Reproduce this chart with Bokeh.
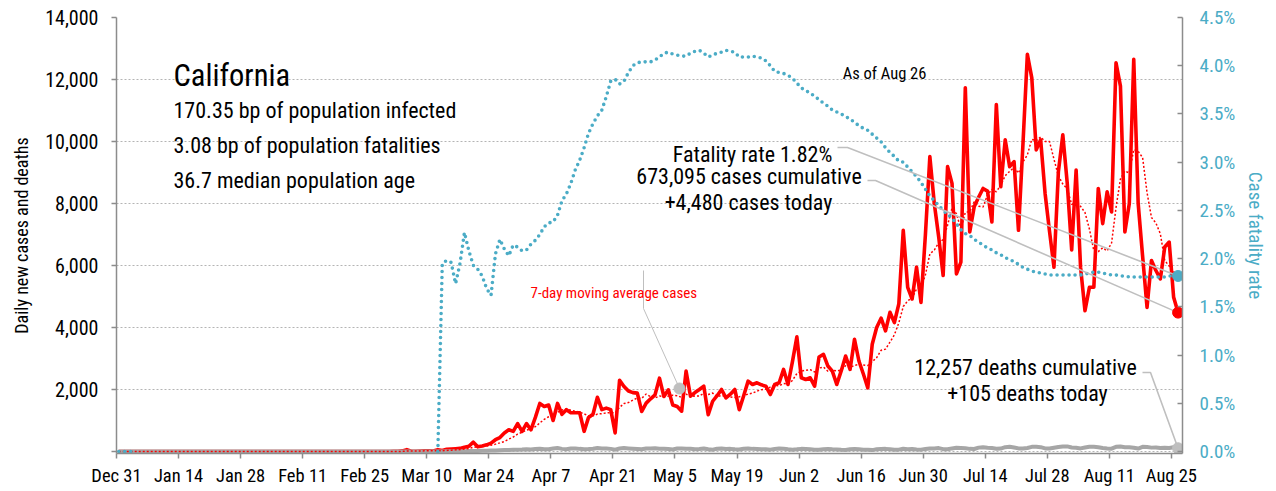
import numpy as np
import pandas as pd
from bokeh.plotting import figure
from bokeh.models import (Range1d, LinearAxis, FixedTicker, NumeralTickFormatter,
                          PrintfTickFormatter, Label, ColumnDataSource)
from bokeh.embed import file_html
from bokeh.resources import INLINE

# ---------------- data ----------------
start_date = "2019-12-31"
tick_labels = ["Dec 31", "Jan 14", "Jan 28", "Feb 11", "Feb 25", "Mar 10", "Mar 24",
               "Apr 7", "Apr 21", "May 5", "May 19", "Jun 2", "Jun 16", "Jun 30",
               "Jul 14", "Jul 28", "Aug 11", "Aug 25"]

# daily new cases, Dec 31 .. Aug 26
cases = [
    0, 0, 0, 0, 0, 0, 0, 0, 0, 0, 0, 0, 0, 0, 0, 0, 0, 0, 0, 0,
    0, 0, 0, 0, 0, 0, 0, 0, 0, 0, 0, 0, 0, 0, 0, 0, 0, 0, 0, 0,
    0, 0, 0, 0, 0, 0, 0, 0, 0, 0, 0, 0, 0, 0, 0, 0, 0, 0, 0, 0,
    0, 0, 5, 10, 20, 60, 10, 10, 15, 20, 25, 15, 60, 30, 70, 80,
    90, 100, 140, 170, 300, 150, 180, 215, 270, 380, 450, 600, 700, 650,
    900, 650, 900, 700, 1100, 1550, 1450, 1500, 1000, 1550,
    1200, 1350, 1250, 1250, 1250, 650, 1100, 1200, 1750, 1350,
    1400, 1350, 600, 2300, 2097, 1950, 1900, 1882, 1290, 1560,
    1700, 1828, 2366, 1775, 1990, 1500, 1450, 1300, 2594, 1784,
    1900, 2000, 2108, 1189, 1621, 1800, 2000, 1730, 1850, 2000,
    1351, 1800, 2270, 2162, 2216, 2150, 2108, 1838, 2162, 2216,
    2648, 2162, 2900, 3697, 2378, 2324, 2378, 2108, 3050, 3135,
    2757, 2594, 2162, 2600, 3081, 2648, 3621, 2919, 2500, 2054,
    3459, 4000, 4300, 3890, 4490, 4160, 4760, 7135, 5297, 4919,
    5946, 4810, 7000, 9513, 8000, 6919, 5676, 9189, 8649, 5730,
    6108, 11730, 7081, 7892, 8200, 8486, 8400, 7405, 11189, 8540,
    10054, 9189, 9351, 7135, 9900, 12810, 12054, 9730, 10054, 8324,
    7100, 5946, 9027, 10216, 8649, 6500, 9081, 5946, 4540, 5297,
    5297, 8486, 7351, 8378, 7730, 12540, 11784, 7081, 8000, 12650,
    8000, 6300, 4649, 6162, 5838, 5568, 6595, 6757, 4973, 4480,
]

# daily deaths, Dec 31 .. Aug 26
deaths = [
    0, 0, 0, 0, 0, 0, 0, 0, 0, 0, 0, 0, 0, 0, 0, 0, 0, 0, 0, 0,
    0, 0, 0, 0, 0, 0, 0, 0, 0, 0, 0, 0, 0, 0, 0, 0, 0, 0, 0, 0,
    0, 0, 0, 0, 0, 0, 0, 0, 0, 0, 0, 0, 0, 0, 0, 0, 0, 0, 0, 0,
    0, 0, 0, 1, 0, 1, 1, 2, 3, 1, 2, 4, 3, 4, 5, 6,
    8, 10, 12, 15, 18, 20, 24, 22, 30, 35, 40, 45, 50, 55,
    60, 62, 70, 65, 80, 90, 72, 75, 95, 110, 85, 70, 95, 100, 85, 75,
    80, 90, 110, 95, 100, 85, 60, 95, 110, 100, 90, 80, 70, 95, 100,
    105, 90, 85, 80, 65, 95, 100, 90, 85, 75, 80, 95, 70, 60, 90, 95,
    80, 85, 70, 65, 90, 100, 85, 80, 75, 70, 60, 80, 95, 90, 70,
    60, 70, 85, 80, 70, 60, 55, 75, 80, 70, 65, 55, 50, 75, 80,
    70, 60, 55, 45, 70, 80, 85, 70, 55, 60, 90, 75, 80, 65, 60,
    80, 100, 95, 110, 75, 70, 100, 120, 115, 105, 85, 80, 125, 140, 120, 110,
    90, 95, 140, 150, 130, 100, 95, 115, 150, 155, 140, 100, 95, 120, 145,
    160, 165, 130, 120, 100, 130, 155, 150, 140, 115, 100, 90, 150, 160,
    140, 135, 120, 95, 150, 145, 125, 130, 110, 120, 115, 140, 105,
]

# case fatality rate (%), first days and then from Mar 12 .. Aug 26
cfr_first_days = [0.0, 0.0, 0.0, 0.0, 0.0]
cfr_from_mar12 = [
    0.00, 1.95, 1.98, 1.96, 1.74, 1.95, 2.27, 2.08, 1.93, 1.89,
    1.82, 1.69, 1.62, 2.05, 2.20, 2.10, 2.03, 2.14, 2.12, 2.08,
    2.09, 2.15, 2.19, 2.25, 2.33, 2.37, 2.38, 2.45, 2.60, 2.67,
    2.78, 2.92, 3.02, 3.15, 3.30, 3.40, 3.48, 3.54, 3.68, 3.84,
    3.86, 3.81, 3.84, 3.93, 4.00, 4.03, 4.04, 4.04, 4.04, 4.06,
    4.09, 4.13, 4.14, 4.12, 4.11, 4.10, 4.10, 4.13, 4.15, 4.16,
    4.13, 4.09, 4.11, 4.13, 4.14, 4.16, 4.15, 4.14, 4.09, 4.09,
    4.09, 4.10, 4.09, 4.08, 4.05, 4.00, 3.94, 3.93, 3.92, 3.90,
    3.87, 3.82, 3.77, 3.74, 3.72, 3.68, 3.65, 3.61, 3.58, 3.54,
    3.52, 3.50, 3.47, 3.45, 3.41, 3.38, 3.35, 3.33, 3.29, 3.25,
    3.21, 3.15, 3.10, 3.06, 3.01, 3.00, 2.95, 2.90, 2.85, 2.79,
    2.72, 2.65, 2.60, 2.55, 2.50, 2.46, 2.42, 2.36, 2.30, 2.26,
    2.24, 2.20, 2.17, 2.14, 2.11, 2.09, 2.06, 2.04, 2.01, 1.99,
    1.97, 1.94, 1.91, 1.89, 1.87, 1.86, 1.85, 1.84, 1.83, 1.83,
    1.83, 1.83, 1.83, 1.83, 1.83, 1.83, 1.84, 1.85, 1.86, 1.86,
    1.85, 1.84, 1.83, 1.83, 1.82, 1.82, 1.81, 1.81, 1.81, 1.81,
    1.81, 1.81, 1.81, 1.81, 1.81, 1.82, 1.82, 1.82,
]
cfr_mar12_date = "2020-03-12"

# ---------------- build ----------------
dates = pd.date_range(start_date, periods=len(cases), freq="D")
day = np.asarray((dates - dates[0]).days, dtype=float)
x = day + 0.5                       # each day drawn at the centre of its slot
ma = pd.Series(cases, dtype=float).rolling(7, min_periods=1).mean().values

cfr = np.full(len(cases), np.nan)
cfr[:len(cfr_first_days)] = cfr_first_days
i12 = (pd.Timestamp(cfr_mar12_date) - dates[0]).days
cfr[i12:i12 + len(cfr_from_mar12)] = cfr_from_mar12

src = ColumnDataSource(dict(x=x, cases=np.asarray(cases, float), ma=ma,
                            deaths=np.asarray(deaths, float), cfr=cfr))

tick_dates = pd.date_range(start_date, periods=len(tick_labels), freq="14D")
tick_days = [int(d) for d in (tick_dates - dates[0]).days]

FONT = "'Liberation Sans Narrow', 'Arial Narrow', 'Roboto Condensed', 'DejaVu Sans Condensed', sans-serif"
RED = "#ff0000"
BLUE = "#4bacc6"
GREY = "#a6a6a6"
AXIS = "#8c8c8c"

XMAX = 240.5
YMAX = 14000
CFRMAX = 4.5
# the frame runs a couple of pixels below zero so the thick lines at zero are not clipped
PAD_PX = 2
FRAME_H = 434
Y_PAD = PAD_PX * YMAX / FRAME_H
CFR_PAD = PAD_PX * CFRMAX / FRAME_H

p = figure(width=1276, height=491, output_backend="svg", toolbar_location=None,
           x_range=Range1d(0, XMAX), y_range=Range1d(-Y_PAD, YMAX),
           min_border_left=116, min_border_right=94, min_border_top=17,
           min_border_bottom=40 - PAD_PX)
p.extra_y_ranges = {"cfr": Range1d(-CFR_PAD, CFRMAX)}
p.outline_line_color = None
p.background_fill_color = "white"
p.border_fill_color = "white"

# canvas-pixel -> data helper for annotation placement (zero at 451, 14000 at 17)
PX0, PX1, PY0, PY1 = 116, 1182, 451, 17
def at(px, py):
    return ((px - PX0) * XMAX / (PX1 - PX0), (PY0 - py) * YMAX / (PY0 - PY1))

# axes
p.xgrid.visible = False
p.xaxis.ticker = FixedTicker(ticks=tick_days)
p.xaxis.major_label_overrides = {d: lab for d, lab in zip(tick_days, tick_labels)}
p.xaxis.major_label_text_font = FONT
p.xaxis.major_label_text_font_size = "18.5px"
p.xaxis.major_label_text_color = "#000000"
p.xaxis.major_tick_out = 5
p.xaxis.major_tick_in = 0
p.xaxis.minor_tick_line_color = None
p.xaxis.major_label_standoff = 6
p.xaxis.axis_line_color = AXIS
p.xaxis.axis_line_width = 1.5
p.xaxis.major_tick_line_color = AXIS
p.xaxis.major_tick_line_width = 1.5

yt = list(range(0, YMAX + 1, 2000))
p.yaxis.ticker = FixedTicker(ticks=yt)
p.yaxis.formatter = NumeralTickFormatter(format="0,0")
p.yaxis.major_label_overrides = {0: ""}
p.yaxis.major_label_text_font = FONT
p.yaxis.major_label_text_font_size = "20px"
p.yaxis.major_label_text_color = "#000000"
p.yaxis.major_tick_out = 5
p.yaxis.major_tick_in = 0
p.yaxis.minor_tick_line_color = None
p.yaxis.major_label_standoff = 13
p.yaxis.axis_line_color = AXIS
p.yaxis.axis_line_width = 1.5
p.yaxis.major_tick_line_color = AXIS
p.yaxis.major_tick_line_width = 1.5
p.yaxis.axis_label = "Daily new cases and deaths"
p.yaxis.axis_label_text_font = FONT
p.yaxis.axis_label_text_font_size = "18px"
p.yaxis.axis_label_text_font_style = "normal"
p.yaxis.axis_label_text_color = "#000000"
p.yaxis.axis_label_standoff = 10

p.ygrid.grid_line_color = "#b4b4b4"
p.ygrid.grid_line_dash = "2 2"
p.ygrid.grid_line_width = 1

ry = LinearAxis(y_range_name="cfr",
                ticker=FixedTicker(ticks=[i * 0.5 for i in range(10)]),
                formatter=PrintfTickFormatter(format="%.1f%%"))
ry.major_label_text_font = FONT
ry.major_label_text_font_size = "19px"
ry.major_label_text_color = BLUE
ry.major_tick_in = 5
ry.major_tick_out = 0
ry.minor_tick_line_color = None
ry.major_label_standoff = 17
ry.axis_line_color = AXIS
ry.axis_line_width = 1.5
ry.major_tick_line_color = AXIS
ry.major_tick_line_width = 1.5
ry.axis_label = "Case fatality rate"
ry.axis_label_text_font = FONT
ry.axis_label_text_font_size = "19px"
ry.axis_label_text_font_style = "normal"
ry.axis_label_text_color = BLUE
ry.axis_label_standoff = 6
p.add_layout(ry, "right")

# series
p.line("x", "cases", source=src, line_color=RED, line_width=3.6, line_join="round")
p.line("x", "deaths", source=src, line_color=GREY, line_width=4, line_join="round")
p.line("x", "ma", source=src, line_color=RED, line_width=1.5, line_dash="2 2")
p.line("x", "cfr", source=src, y_range_name="cfr", line_color=BLUE, line_width=3.6,
       line_dash="0 6", line_cap="round")

# leader lines
LEAD = "#bfbfbf"
cfr_last_left = cfr[-1] * YMAX / CFRMAX
a1, b1 = at(837, 147), at(847, 147)
p.line([a1[0], b1[0], x[-1]], [a1[1], b1[1], cfr_last_left], line_color=LEAD, line_width=1.6)
a2, b2 = at(867, 180), at(875, 180)
p.line([a2[0], b2[0], x[-1]], [a2[1], b2[1], cases[-1]], line_color=LEAD, line_width=1.6)
a3, b3 = at(1142, 372), at(1150, 372)
p.line([a3[0], b3[0], x[-1]], [a3[1], b3[1], deaths[-1]], line_color=LEAD, line_width=1.6)
m1, m2, m3 = at(643, 270), at(643, 308), at(679, 388)
p.line([m1[0], m2[0], m3[0]], [m1[1], m2[1], m3[1]], line_color=LEAD, line_width=1)
p.scatter([m3[0]], [m3[1]], size=11, color=LEAD)

# end markers
p.scatter([x[-1]], [cases[-1]], size=11, color=RED)
p.scatter([x[-1]], [deaths[-1]], size=11, color=LEAD)
p.scatter([x[-1]], [cfr[-1]], y_range_name="cfr", size=11, color=BLUE)

# texts
def label(px, py, text, size, align="left", color="#000000"):
    lx, ly = at(px, py)
    p.add_layout(Label(x=lx, y=ly, text=text, text_font=FONT, text_font_size=size,
                       text_align=align, text_baseline="alphabetic", text_color=color))

label(173, 75, "California", "30.5px")
label(173, 110, "170.35 bp of population infected", "22px")
label(173, 145, "3.08 bp of population fatalities", "22px")
label(173, 180, "36.7 median population age", "22px")
label(884, 73, "As of Aug 26", "16.5px", "center")
label(752, 154, "Fatality rate 1.82%", "22px", "center")
label(748.5, 175.5, "673,095 cases cumulative", "22px", "center")
label(748, 202, "+4,480 cases today", "22px", "center")
label(1025, 366.7, "12,257 deaths cumulative", "22px", "center")
label(1027, 393, "+105 deaths today", "22px", "center")
label(530, 292, "7-day moving average cases", "15px", "left", RED)

open("out.html", "w").write(file_html(p, INLINE))
